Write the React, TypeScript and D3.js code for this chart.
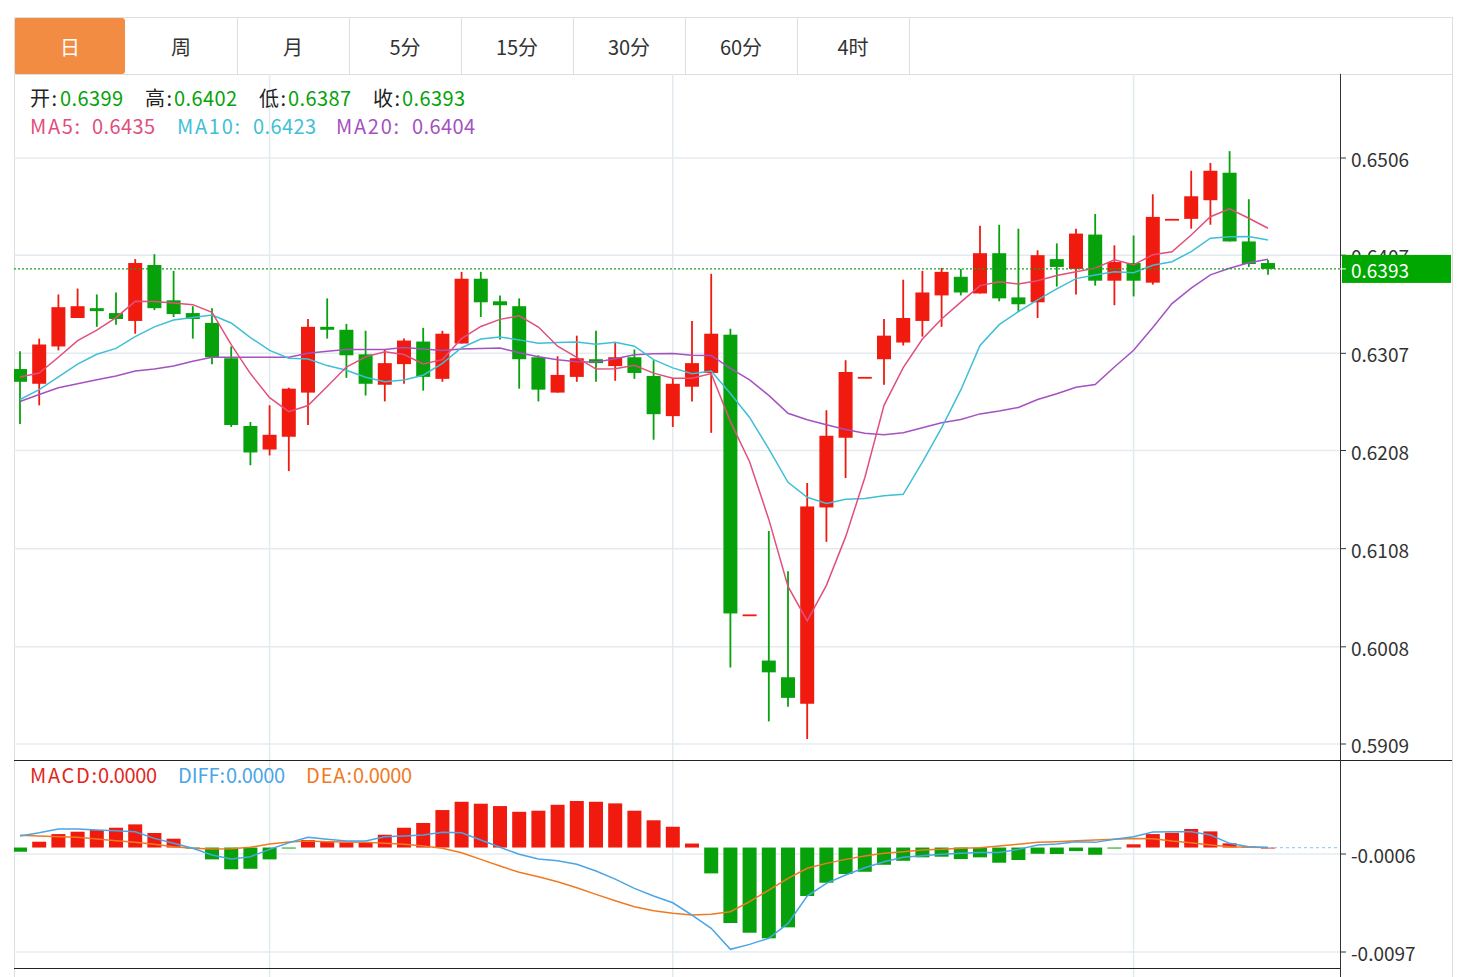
import React from 'react';
import * as d3 from 'd3';

const tabs = ['日', '周', '月', '5分', '15分', '30分', '60分', '4时'];

const opens = [
  0.6291, 0.6276, 0.6314, 0.6343, 0.6353, 0.6348, 0.6340, 0.6397, 0.6361, 0.6348,
  0.6338, 0.6302, 0.6233, 0.6209, 0.6222, 0.6267, 0.6334, 0.6331, 0.6306, 0.6275,
  0.6296, 0.6319, 0.6281, 0.6317, 0.6383, 0.6360, 0.6355, 0.6303, 0.6267, 0.6283,
  0.6301, 0.6294, 0.6303, 0.6284, 0.6243, 0.6273, 0.6287, 0.6326, 0.6041, 0.5994,
  0.5977, 0.5950, 0.6150, 0.6221, 0.6283, 0.6301, 0.6318, 0.6340, 0.6366, 0.6385,
  0.6368, 0.6409, 0.6364, 0.6359, 0.6403, 0.6393, 0.6428, 0.6381, 0.6399, 0.6379,
  0.6444, 0.6444, 0.6463, 0.6491, 0.6421, 0.6399,
];
const highs = [
  0.6309, 0.6322, 0.6367, 0.6373, 0.6367, 0.6369, 0.6403, 0.6408, 0.6391, 0.6355,
  0.6353, 0.6314, 0.6237, 0.6254, 0.6272, 0.6342, 0.6363, 0.6337, 0.6330, 0.6311,
  0.6322, 0.6333, 0.6330, 0.6390, 0.6390, 0.6366, 0.6363, 0.6305, 0.6304, 0.6325,
  0.6330, 0.6318, 0.6311, 0.6300, 0.6282, 0.6340, 0.6388, 0.6332, 0.6041, 0.6126,
  0.6085, 0.6175, 0.6249, 0.6300, 0.6283, 0.6342, 0.6382, 0.6391, 0.6394, 0.6393,
  0.6437, 0.6438, 0.6434, 0.6412, 0.6419, 0.6434, 0.6449, 0.6417, 0.6427, 0.6469,
  0.6444, 0.6493, 0.6501, 0.6513, 0.6464, 0.6402,
];
const lows = [
  0.6235, 0.6254, 0.6310, 0.6343, 0.6334, 0.6336, 0.6327, 0.6351, 0.6344, 0.6322,
  0.6296, 0.6232, 0.6193, 0.6203, 0.6187, 0.6234, 0.6322, 0.6282, 0.6264, 0.6258,
  0.6276, 0.6269, 0.6278, 0.6317, 0.6344, 0.6321, 0.6271, 0.6258, 0.6267, 0.6278,
  0.6278, 0.6279, 0.6281, 0.6219, 0.6232, 0.6258, 0.6226, 0.5987, 0.6041, 0.5932,
  0.5947, 0.5914, 0.6115, 0.6180, 0.6283, 0.6275, 0.6315, 0.6324, 0.6334, 0.6366,
  0.6368, 0.6360, 0.6349, 0.6343, 0.6375, 0.6367, 0.6376, 0.6356, 0.6365, 0.6377,
  0.6444, 0.6434, 0.6438, 0.6421, 0.6395, 0.6387,
];
const closes = [
  0.6278, 0.6316, 0.6354, 0.6355, 0.6350, 0.6342, 0.6399, 0.6353, 0.6347, 0.6342,
  0.6303, 0.6234, 0.6206, 0.6224, 0.6271, 0.6334, 0.6331, 0.6305, 0.6276, 0.6297,
  0.6320, 0.6283, 0.6327, 0.6383, 0.6359, 0.6356, 0.6301, 0.6270, 0.6285, 0.6302,
  0.6297, 0.6303, 0.6287, 0.6245, 0.6276, 0.6297, 0.6327, 0.6042, 0.6041, 0.5982,
  0.5956, 0.6151, 0.6223, 0.6288, 0.6283, 0.6325, 0.6343, 0.6369, 0.6390, 0.6369,
  0.6409, 0.6363, 0.6357, 0.6407, 0.6395, 0.6429, 0.6381, 0.6400, 0.6381, 0.6446,
  0.6444, 0.6467, 0.6493, 0.6421, 0.6398, 0.6393,
];

// moving-average values visible before enough closes are on screen
const ma5Head = [0.6283, 0.6287, 0.6303, 0.6320];
const ma10Head = [0.6260, 0.6270, 0.6283, 0.6296, 0.6306, 0.6312, 0.6324, 0.6334, 0.6341];
const ma20Head = [
  0.6258, 0.6265, 0.6272, 0.6276, 0.6280, 0.6284, 0.6289, 0.6291, 0.6294, 0.6299,
  0.6303, 0.6303, 0.6303, 0.6303, 0.6303, 0.6307, 0.6309, 0.6311, 0.6311,
];

const macdHist = [
  -0.00039, 0.00054, 0.00125, 0.00147, 0.00163, 0.00184, 0.00215, 0.00135, 0.00082, -0.00002,
  -0.00110, -0.00202, -0.00197, -0.00110, -0.00002, 0.00070, 0.00054, 0.00048, 0.00048, 0.00119,
  0.00184, 0.00228, 0.00348, 0.00425, 0.00407, 0.00385, 0.00332, 0.00342, 0.00397, 0.00432,
  0.00425, 0.00410, 0.00342, 0.00253, 0.00193, 0.00037, -0.00240, -0.00701, -0.00791, -0.00843,
  -0.00741, -0.00450, -0.00327, -0.00246, -0.00225, -0.00160, -0.00123, -0.00091, -0.00085, -0.00107,
  -0.00091, -0.00141, -0.00116, -0.00058, -0.00060, -0.00033, -0.00067, -0.00007, 0.00030, 0.00125,
  0.00137, 0.00172, 0.00150, 0.00039, 0.00009, 0,
];
const diffLine = [
  0.00107, 0.00137, 0.00172, 0.00172, 0.00163, 0.00156, 0.00147, 0.00085, 0.00039, -0.00007,
  -0.00070, -0.00107, -0.00085, -0.00017, 0.00045, 0.00095, 0.00076, 0.00060, 0.00060, 0.00100,
  0.00107, 0.00116, 0.00141, 0.00137, 0.00070, 0.00002, -0.00063, -0.00107, -0.00123, -0.00156,
  -0.00218, -0.00293, -0.00379, -0.00450, -0.00513, -0.00627, -0.00750, -0.00945, -0.00899, -0.00843,
  -0.00704, -0.00450, -0.00332, -0.00255, -0.00188, -0.00132, -0.00091, -0.00076, -0.00063, -0.00054,
  -0.00045, -0.00045, -0.00017, 0.00023, 0.00033, 0.00054, 0.00048, 0.00076, 0.00100, 0.00144,
  0.00147, 0.00147, 0.00116, 0.00039, 0.00007, 0,
];
const deaLine = [
  0.00113, 0.00107, 0.00100, 0.00095, 0.00079, 0.00063, 0.00048, 0.00030, 0.00007, -0.00007,
  -0.00014, -0.00011, 0.00002, 0.00033, 0.00051, 0.00060, 0.00054, 0.00051, 0.00048, 0.00039,
  0.00030, 0.00014, -0.00007, -0.00048, -0.00110, -0.00172, -0.00230, -0.00271, -0.00318, -0.00373,
  -0.00435, -0.00494, -0.00550, -0.00587, -0.00611, -0.00627, -0.00620, -0.00596, -0.00503, -0.00395,
  -0.00286, -0.00193, -0.00147, -0.00110, -0.00079, -0.00054, -0.00039, -0.00023, -0.00017, -0.00007,
  -0.00002, 0.00014, 0.00030, 0.00048, 0.00054, 0.00063, 0.00070, 0.00076, 0.00085, 0.00082,
  0.00060, 0.00045, 0.00023, 0.00007, 0.00002, 0,
];

const priceTicks = [0.6506, 0.6407, 0.6307, 0.6208, 0.6108, 0.6008, 0.5909];
const macdTicks = [-0.0006, -0.0097];
const gridIdx = [13, 34, 58];
const lastPrice = 0.6393;
const ohlcLegend = [
  ['开', '0.6399'],
  ['高', '0.6402'],
  ['低', '0.6387'],
  ['收', '0.6393'],
];
const maLegend = [
  ['MA5', '0.6435'],
  ['MA10', '0.6423'],
  ['MA20', '0.6404'],
];
const macdLegend = [
  ['MACD', '0.0000'],
  ['DIFF', '0.0000'],
  ['DEA', '0.0000'],
];

const RED = '#f01a0e';
const GREEN = '#07a20b';
const GRID = '#e3ebf0';
const BORDER = '#dedede';
const FONT = '"Noto Sans CJK SC", "Noto Sans", sans-serif';

function movingAvg(head: number[], n: number): number[] {
  return closes.map((_, i) => (i < n - 1 ? head[i] : (d3.mean(closes.slice(i - n + 1, i + 1)) as number)));
}

export default function App() {
  const W = 1469;
  const H = 977;
  const L = 14;
  const AX = 1340;
  const OR = 1452;
  const TAB_T = 17;
  const TAB_B = 74;
  const MAIN_B = 760;
  const MACD_B = 968;

  const x = d3.scaleLinear().domain([0, closes.length - 1]).range([20, 20 + 19.2 * (closes.length - 1)]);
  const y = d3.scaleLinear().domain([0.5909, 0.6506]).range([744, 158]);
  const ym = d3.scaleLinear().domain([-0.0097, -0.0006]).range([952, 854]);

  const ma5 = movingAvg(ma5Head, 5);
  const ma10 = movingAvg(ma10Head, 10);
  const ma20 = movingAvg(ma20Head, 20);

  const lineP = d3.line<number>().x((_, i) => x(i)).y((d) => y(d));
  const lineM = d3.line<number>().x((_, i) => x(i)).y((d) => ym(d));

  const bw = 14;
  const tabW = 112;
  const zero = ym(0);

  // legend layout (label x, label width, value x)
  const ohlcPos = [[30, 27, 60], [145, 27, 174], [259, 27, 288], [373, 27, 402]];
  const maPos = [[30, 50, 92], [177, 63, 253], [336, 63, 412]];
  const macdPos = [[30, 67, 98], [178, 47, 226], [306, 46, 353]];
  const maColors = ['#e14f7d', '#3fbfd6', '#a452c0'];
  const macdColors = ['#e3261c', '#4aa5e6', '#f07a22'];

  return (
    <svg
      width={W}
      height={H}
      style={{ position: 'absolute', left: 0, top: 0, background: '#fff' }}
      fontFamily={FONT}
    >
      <defs>
        <clipPath id="mainClip">
          <rect x={L} y={TAB_B} width={AX - L} height={MAIN_B - TAB_B} />
        </clipPath>
        <clipPath id="macdClip">
          <rect x={L} y={MAIN_B} width={AX - L} height={MACD_B - MAIN_B} />
        </clipPath>
      </defs>

      {/* tabs */}
      <line x1={L} x2={OR} y1={TAB_T + 0.5} y2={TAB_T + 0.5} stroke={BORDER} />
      <line x1={L} x2={OR} y1={TAB_B + 0.5} y2={TAB_B + 0.5} stroke={BORDER} />
      {tabs.map((t, i) => {
        const x0 = L + i * tabW - (i > 0 ? 1 : 0);
        return (
          <g key={t}>
            {i === 0 ? (
              <rect x={L} y={TAB_T + 1} width={tabW - 1} height={TAB_B - TAB_T - 1} rx={3} fill="#f28c43" />
            ) : null}
            {i > 0 ? (
              <line x1={x0 + tabW + 0.5} x2={x0 + tabW + 0.5} y1={TAB_T} y2={TAB_B} stroke={BORDER} />
            ) : null}
            <text
              x={x0 + tabW / 2}
              y={TAB_T + 29}
              textAnchor="middle"
              dominantBaseline="central"
              fontSize={20}
              fill={i === 0 ? '#fff' : '#333'}
            >
              {t}
            </text>
          </g>
        );
      })}

      {/* outer borders */}
      <line x1={L + 0.5} x2={L + 0.5} y1={TAB_T} y2={H} stroke={BORDER} />
      <line x1={OR + 0.5} x2={OR + 0.5} y1={TAB_T} y2={H} stroke={BORDER} />

      {/* grids */}
      {priceTicks.map((t) => (
        <line key={'hg' + t} x1={L} x2={AX} y1={y(t)} y2={y(t)} stroke={GRID} strokeWidth={1.5} />
      ))}
      {macdTicks.map((t) => (
        <line key={'mg' + t} x1={L} x2={AX} y1={ym(t)} y2={ym(t)} stroke={GRID} strokeWidth={1.5} />
      ))}
      {gridIdx.map((i) => (
        <line key={'vg' + i} x1={x(i)} x2={x(i)} y1={TAB_B} y2={H} stroke={GRID} strokeWidth={1.5} />
      ))}

      {/* candles */}
      <g clipPath="url(#mainClip)">
        {closes.map((c, i) => {
          const o = opens[i];
          const up = c >= o;
          const col = up ? RED : GREEN;
          const top = y(Math.max(o, c));
          const bot = y(Math.min(o, c));
          const cx = x(i);
          return (
            <g key={'c' + i}>
              <line x1={cx} x2={cx} y1={y(highs[i])} y2={y(lows[i])} stroke={col} strokeWidth={1.8} />
              <rect x={cx - bw / 2} y={top} width={bw} height={Math.max(bot - top, 1.8)} fill={col} />
            </g>
          );
        })}
        <path d={lineP(ma20) || ''} fill="none" stroke={maColors[2]} strokeWidth={1.5} />
        <path d={lineP(ma10) || ''} fill="none" stroke={maColors[1]} strokeWidth={1.5} />
        <path d={lineP(ma5) || ''} fill="none" stroke={maColors[0]} strokeWidth={1.5} />
      </g>

      {/* last price dotted line */}
      <line
        x1={L}
        x2={AX}
        y1={y(lastPrice)}
        y2={y(lastPrice)}
        stroke="#1e9e1e"
        strokeWidth={1.3}
        strokeDasharray="2,2"
      />

      {/* legends */}
      {ohlcLegend.map(([k, v], i) => (
        <g key={'ol' + k}>
          <text x={ohlcPos[i][0]} y={106} fontSize={20} fill="#222" textLength={ohlcPos[i][1]} lengthAdjust="spacing">
            {k}:
          </text>
          <text x={ohlcPos[i][2]} y={106} fontSize={20} fill={GREEN} textLength={63} lengthAdjust="spacing">
            {v}
          </text>
        </g>
      ))}
      {maLegend.map(([k, v], i) => (
        <g key={'ml' + k}>
          <text x={maPos[i][0]} y={134} fontSize={20} fill={maColors[i]} textLength={maPos[i][1]} lengthAdjust="spacing">
            {k}:
          </text>
          <text x={maPos[i][2]} y={134} fontSize={20} fill={maColors[i]} textLength={63} lengthAdjust="spacing">
            {v}
          </text>
        </g>
      ))}

      {/* MACD panel */}
      <g clipPath="url(#macdClip)">
        {macdHist.map((v, i) => {
          const yy = ym(v);
          const top = Math.min(yy, zero);
          const h = Math.max(Math.abs(yy - zero), 1);
          return (
            <rect
              key={'h' + i}
              x={x(i) - bw / 2}
              y={top}
              width={bw}
              height={h}
              fill={v >= 0 ? RED : GREEN}
            />
          );
        })}
        <line
          x1={x(closes.length - 1)}
          x2={AX}
          y1={zero}
          y2={zero}
          stroke="#9fcfee"
          strokeWidth={1.3}
          strokeDasharray="3,3"
        />
        <path d={lineM(deaLine) || ''} fill="none" stroke={macdColors[2]} strokeWidth={1.5} />
        <path d={lineM(diffLine) || ''} fill="none" stroke={macdColors[1]} strokeWidth={1.5} />
      </g>
      {macdLegend.map(([k, v], i) => (
        <g key={'mcl' + k}>
          <text
            x={macdPos[i][0]}
            y={783}
            fontSize={20}
            fill={macdColors[i]}
            textLength={macdPos[i][1]}
            lengthAdjust="spacing"
          >
            {k}:
          </text>
          <text x={macdPos[i][2]} y={783} fontSize={20} fill={macdColors[i]} textLength={59} lengthAdjust="spacing">
            {v}
          </text>
        </g>
      ))}

      {/* panel separators */}
      <line x1={L} x2={OR} y1={MAIN_B + 0.5} y2={MAIN_B + 0.5} stroke="#222" />
      <line x1={L} x2={AX} y1={MACD_B + 0.5} y2={MACD_B + 0.5} stroke="#222" />

      {/* right axis */}
      <line x1={AX + 0.5} x2={AX + 0.5} y1={TAB_B} y2={H} stroke="#333" />
      {priceTicks.map((t) => (
        <g key={'pt' + t}>
          <line x1={AX} x2={AX + 6} y1={y(t)} y2={y(t)} stroke="#333" />
          <text x={1351} y={y(t) + 0.5} dominantBaseline="central" fontSize={19} fill="#333">
            {t.toFixed(4)}
          </text>
        </g>
      ))}
      {macdTicks.map((t) => (
        <g key={'mt' + t}>
          <line x1={AX} x2={AX + 6} y1={ym(t)} y2={ym(t)} stroke="#333" />
          <text x={1351} y={ym(t) + 0.5} dominantBaseline="central" fontSize={19} fill="#333">
            {t.toFixed(4)}
          </text>
        </g>
      ))}

      {/* last price tag */}
      <rect x={AX + 2} y={y(lastPrice) - 14} width={OR - AX - 3} height={28} fill="#00a700" />
      <line x1={AX} x2={AX + 6} y1={y(lastPrice)} y2={y(lastPrice)} stroke="#fff" />
      <text x={1351} y={y(lastPrice) + 0.5} dominantBaseline="central" fontSize={19} fill="#fff">
        {lastPrice.toFixed(4)}
      </text>
    </svg>
  );
}
